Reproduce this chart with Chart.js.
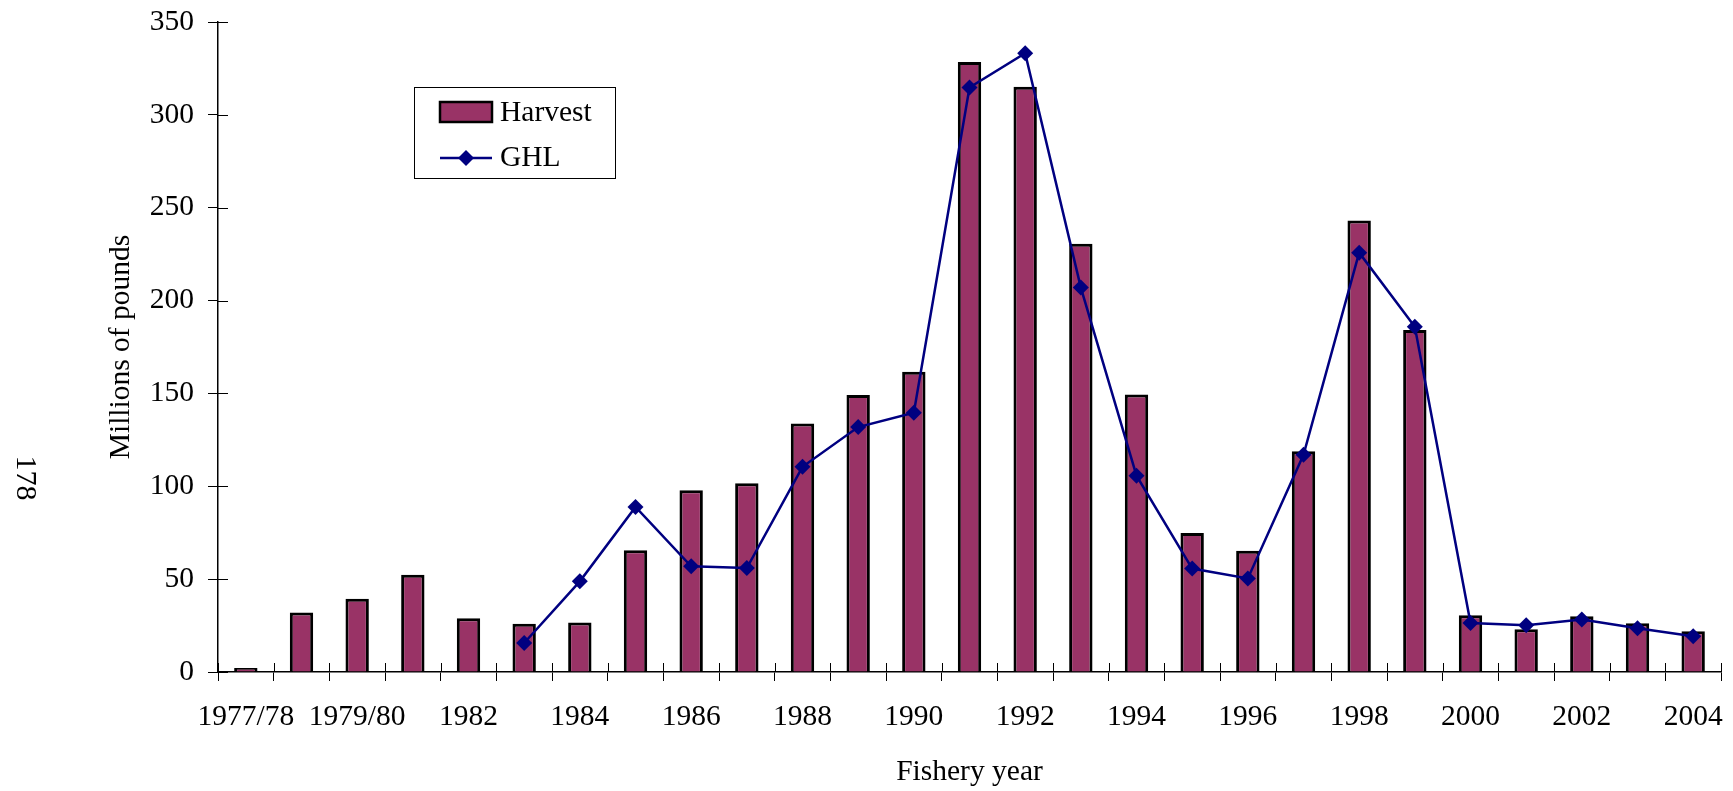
<!DOCTYPE html>
<html>
<head>
<meta charset="utf-8">
<title>Harvest and GHL</title>
<script src="https://cdn.jsdelivr.net/npm/chart.js@4.4.1/dist/chart.umd.min.js"></script>
<style>
  body { margin: 0; background: #fff; }
  #wrap { width: 1733px; height: 791px; }
</style>
</head>
<body>
<div id="wrap"><canvas id="chart" width="1733" height="791"></canvas></div>
<script>
// Fishery years (every other one is labelled on the axis)
const categories = [
  "1977/78", "1978/79", "1979/80", "1980/81", "1982", "1983", "1984", "1985", "1986",
  "1987", "1988", "1989", "1990", "1991", "1992", "1993", "1994", "1995", "1996",
  "1997", "1998", "1999", "2000", "2001", "2002", "2003", "2004"
];

// Millions of pounds
const harvest = [
  1.4, 32, 39.4, 52.4, 29, 26, 26.7, 65.6, 97.8,
  101.6, 133.8, 149.2, 161.7, 328.4, 315.2, 230.6, 149.4, 74.9, 65.3,
  118.9, 243.1, 184.2, 30.5, 23, 30, 26.2, 21.9
];

const ghl = [
  null, null, null, null, null, 15.6, 48.8, 88.9, 56.9,
  56, 110.5, 131.9, 139.6, 314.7, 333.2, 207, 105.7, 55.7, 50.4,
  117, 225.8, 185.9, 26.4, 25.2, 28.3, 23.5, 19.2
];

const yMin = 0;
const yMax = 350;
const yStep = 50;

const FONT = '"Liberation Serif", "Times New Roman", serif';
const barColor = "#993366";
const lineColor = "#000080";

// ticks crossing the axes + legend box + page number
const extras = {
  id: "extras",
  afterDraw(chart) {
    const { ctx, chartArea, scales } = chart;
    const x = scales.x, y = scales.y;
    ctx.save();
    ctx.strokeStyle = "#000";
    ctx.lineWidth = 1;
    ctx.beginPath();
    y.ticks.forEach((t, i) => {
      const py = Math.round(y.getPixelForTick(i)) + 0.5;
      ctx.moveTo(chartArea.left, py);
      ctx.lineTo(chartArea.left + 10, py);
    });
    for (let i = 0; i <= categories.length; i++) {
      const px = Math.round(x.getPixelForValue(i - 0.5)) + 0.5;
      ctx.moveTo(px, chartArea.bottom);
      ctx.lineTo(px, chartArea.bottom - 9);
    }
    ctx.stroke();

    // legend
    ctx.fillStyle = "#fff";
    ctx.fillRect(414, 87, 201, 91);
    ctx.strokeRect(414.5, 87.5, 201, 91);
    ctx.fillStyle = barColor;
    ctx.fillRect(440, 102, 52, 20);
    ctx.lineWidth = 2.5;
    ctx.strokeRect(440, 102, 52, 20);
    ctx.strokeStyle = lineColor;
    ctx.lineWidth = 2.5;
    ctx.beginPath();
    ctx.moveTo(440, 158);
    ctx.lineTo(492, 158);
    ctx.stroke();
    ctx.fillStyle = lineColor;
    ctx.beginPath();
    ctx.moveTo(458, 158);
    ctx.lineTo(466, 150);
    ctx.lineTo(474, 158);
    ctx.lineTo(466, 166);
    ctx.closePath();
    ctx.fill();
    ctx.fillStyle = "#000";
    ctx.font = "29.5px " + FONT;
    ctx.textBaseline = "middle";
    ctx.textAlign = "left";
    ctx.fillText("Harvest", 500, 113);
    ctx.fillText("GHL", 500, 158);

    // page number, turned sideways
    ctx.translate(25, 478);
    ctx.rotate(Math.PI / 2);
    ctx.textAlign = "center";
    ctx.font = "30px " + FONT;
    ctx.fillText("178", 0, 0);
    ctx.restore();
  }
};

new Chart(document.getElementById("chart"), {
  data: {
    labels: categories,
    datasets: [
      {
        type: "line",
        label: "GHL",
        data: ghl,
        borderColor: lineColor,
        backgroundColor: lineColor,
        borderWidth: 2.5,
        pointStyle: "rectRot",
        pointRadius: 8,
        pointBackgroundColor: lineColor,
        pointBorderWidth: 0,
        tension: 0,
        order: 0
      },
      {
        type: "bar",
        label: "Harvest",
        data: harvest,
        backgroundColor: barColor,
        borderColor: "#000",
        borderWidth: 3,
        minBarLength: 4,
        barPercentage: 0.42,
        categoryPercentage: 1,
        order: 1
      }
    ]
  },
  options: {
    responsive: false,
    animation: false,
    devicePixelRatio: 1,
    layout: { padding: { left: 0, right: 12, top: 0, bottom: 0 } },
    plugins: {
      legend: { display: false },
      tooltip: { enabled: false }
    },
    scales: {
      x: {
        offset: true,
        grid: { display: true, drawOnChartArea: false, offset: true, tickLength: 9, color: "#000" },
        border: { color: "#000", width: 1.5 },
        ticks: {
          color: "#000",
          font: { family: FONT, size: 29.5 },
          autoSkip: false,
          maxRotation: 0,
          padding: 19,
          callback: (v, i) => (i % 2 === 0 ? categories[i] : "")
        },
        title: {
          display: true,
          text: "Fishery year",
          color: "#000",
          font: { family: FONT, size: 29.5 },
          padding: { top: 0, bottom: 1 }
        },
        afterFit: (s) => {
          s.height = 119;
          s.paddingLeft = 0;
          s.paddingRight = 0;
        }
      },
      y: {
        min: yMin,
        max: yMax,
        grid: { display: true, drawOnChartArea: false, tickLength: 10, color: "#000" },
        border: { color: "#000", width: 1.5 },
        ticks: {
          stepSize: yStep,
          color: "#000",
          font: { family: FONT, size: 29.5 },
          padding: 14
        },
        title: {
          display: true,
          text: "Millions of pounds",
          color: "#000",
          font: { family: FONT, size: 29.5 },
          padding: { top: 104, bottom: 0 }
        },
        afterFit: (s) => {
          s.width = 218;
          s.paddingTop = 22;
          s.paddingBottom = 0;
        }
      }
    }
  },
  plugins: [extras]
});
</script>
</body>
</html>
